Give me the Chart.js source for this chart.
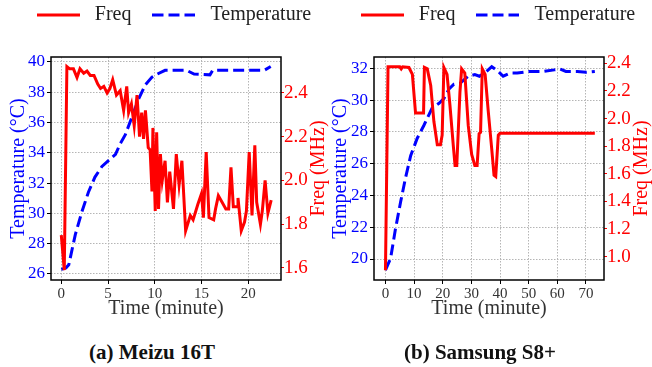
<!DOCTYPE html>
<html>
<head>
<meta charset="utf-8">
<script src="https://cdn.jsdelivr.net/npm/chart.js@4.4.0/dist/chart.umd.min.js"></script>
<style>
html, body { margin: 0; padding: 0; background: #fff; overflow: hidden; width: 652px; height: 367px; }
canvas { position: absolute; }
#meizu { left: 0; top: -11px; }
#samsung { left: 320px; top: -11px; }
.cap { position: absolute; top: 340px; font: bold 21px "Liberation Serif", serif; color: #111; white-space: nowrap; transform: translateX(-50%); }
</style>
</head>
<body>
<canvas id="meizu" width="343" height="341"></canvas>
<canvas id="samsung" width="351" height="341"></canvas>
<div class="cap" style="left:152px">(a) Meizu 16T</div>
<div class="cap" style="left:480px">(b) Samsung S8+</div>
<script>
// Meizu 16T
var meizuFreqTime = [0,0.32,0.6,0.9,1.3,1.68,2.0,2.4,2.75,3.1,3.5,3.9,4.2,4.55,4.9,5.2,5.5,5.9,6.3,6.67,7.0,7.2,7.5,7.8,8.1,8.37,8.6,8.8,9.0,9.3,9.5,9.7,9.8,10.05,10.2,10.4,10.6,10.8,11.1,11.35,11.6,12.0,12.3,12.6,12.9,13.3,13.8,14.1,14.6,15.0,15.2,15.5,15.8,16.3,16.5,16.8,17.2,17.6,17.9,18.15,18.4,18.8,18.9,19.25,19.6,19.8,20.1,20.4,20.7,20.9,21.3,21.5,21.8,22.1,22.45];
var meizuFreq = [1.75,1.59,2.52,2.51,2.51,2.47,2.51,2.49,2.50,2.48,2.48,2.44,2.42,2.43,2.40,2.42,2.46,2.39,2.41,2.32,2.43,2.31,2.35,2.25,2.39,2.20,2.31,2.19,2.32,2.15,2.14,1.95,2.24,1.86,2.22,1.87,2.12,2.00,2.09,1.90,2.04,1.87,2.12,1.98,2.09,1.77,1.84,1.82,1.89,1.94,1.83,2.13,1.83,1.82,1.87,1.93,1.90,1.87,1.87,2.06,1.88,1.88,1.92,1.77,1.81,1.86,2.13,1.84,2.16,1.90,1.80,1.86,2.00,1.85,1.91];
var meizuTempTime = [0,0.5,0.8,1.5,2.2,2.9,3.6,4.35,5.8,6.3,6.85,7.4,8.3,9.0,9.7,10.1,11.1,13.4,14.2,15.9,16.2,21.7,22.4];
var meizuTemp = [26.3,26.4,26.6,28.6,30.1,31.4,32.4,33.1,33.9,34.6,35.2,36.1,37.6,38.5,39.0,39.15,39.45,39.45,39.2,39.15,39.45,39.45,39.7];
var meizuXTicks = [0,5,10,15,20];
var meizuTempTicks = [26,28,30,32,34,36,38,40];
var meizuFreqTicks = [1.6,1.8,2.0,2.2,2.4];

// Samsung S8+
var samsungFreqTime = [0,0.9,5,5.5,6,8.2,9.4,10.5,13.3,13.6,14.6,15.8,16.9,18.1,19.2,19.8,20.4,21.5,22.5,23.7,24.3,24.9,26.0,26.6,27.7,28.9,30.1,31.2,32.0,32.7,33.2,33.8,34.8,35.9,37.1,37.9,38.5,39.4,40.0,73.1];
var samsungFreq = [0.90,2.375,2.375,2.36,2.375,2.37,2.32,2.04,2.04,2.37,2.36,2.24,1.98,1.81,1.81,1.88,2.37,2.32,2.10,1.80,1.66,1.66,2.19,2.36,2.33,1.95,1.74,1.66,1.66,1.89,1.90,2.36,2.32,2.05,1.78,1.59,1.58,1.88,1.893,1.893];
var samsungTempTime = [0,1.8,3.5,5.3,7.0,8.8,11.1,13.4,16.3,18.7,20.4,22.2,23.9,26,28.9,31.2,32.8,35.3,37.1,39.4,41.1,43.5,46,50,55,59,61,63,67,70,73.1];
var samsungTemp = [19.3,20.05,21.9,23.6,25.1,26.5,27.6,28.4,29.5,29.8,30.1,30.7,31.0,31.05,31.5,31.6,31.5,31.8,32.1,31.8,31.5,31.7,31.7,31.8,31.8,31.9,31.95,31.8,31.8,31.75,31.8];
var samsungXTicks = [0,10,20,30,40,50,60,70];
var samsungTempTicks = [20,22,24,26,28,30,32];
var samsungFreqTicks = [1.0,1.2,1.4,1.6,1.8,2.0,2.2,2.4];

var SERIF = '"Liberation Serif", "Times New Roman", serif';
var DASH = [11, 5];

function pts(t, v) {
  return t.map(function (x, i) { return { x: x, y: v[i] }; });
}

function fixedTicks(list) {
  return function (scale) {
    scale.ticks = list.map(function (v) { return { value: v }; });
  };
}

function lineImg(color, dash) {
  var c = document.createElement('canvas');
  c.width = 43; c.height = 4;
  var g = c.getContext('2d');
  g.strokeStyle = color; g.lineWidth = 3; g.setLineDash(dash);
  g.beginPath(); g.moveTo(0, 2); g.lineTo(43, 2); g.stroke();
  return c;
}

// legend height, plot frame and the right-hand axis title (bottom-to-top)
var framePlugin = {
  id: 'frame',
  beforeLayout: function (chart) {
    var lg = chart.legend;
    if (lg && !lg._fixed) {
      var fit = lg.fit;
      lg.fit = function () { fit.call(this); this.height = 68; };
      lg._fixed = true;
    }
  },
  afterDraw: function (chart) {
    var ctx = chart.ctx, a = chart.chartArea;
    ctx.save();
    ctx.strokeStyle = '#000';
    ctx.lineWidth = 1.5;
    ctx.strokeRect(a.left, a.top, a.right - a.left, a.bottom - a.top);
    ctx.translate(a.right + 38, (a.top + a.bottom) / 2);
    ctx.rotate(-Math.PI / 2);
    ctx.fillStyle = 'red';
    ctx.font = '20px ' + SERIF;
    ctx.textAlign = 'center';
    ctx.textBaseline = 'middle';
    ctx.fillText('Freq (MHz)', 0, 0);
    ctx.restore();
  }
};

function build(id, o) {
  var grid = { color: '#b5b5b5', lineWidth: 1, tickLength: 4, tickColor: '#000', tickWidth: 1 };
  var border = { display: false, dash: [1.5, 1.5] };
  return new Chart(document.getElementById(id), {
    type: 'line',
    data: {
      datasets: [{
        label: 'Freq',
        data: pts(o.freqT, o.freq),
        yAxisID: 'y1',
        borderColor: '#ff0000',
        borderWidth: 3,
        pointRadius: 0,
        pointStyle: lineImg('#ff0000', []),
        tension: 0
      }, {
        label: 'Temperature',
        data: pts(o.tempT, o.temp),
        yAxisID: 'y',
        borderColor: '#0000ff',
        borderWidth: 3,
        borderDash: DASH,
        pointRadius: 0,
        pointStyle: lineImg('#0000ff', DASH),
        tension: 0
      }]
    },
    options: {
      responsive: false,
      animation: false,
      events: [],
      layout: { padding: 0 },
      plugins: {
        legend: {
          labels: { usePointStyle: true, pointStyleWidth: 53, padding: 16, color: '#222', font: { family: SERIF, size: 20 } }
        },
        tooltip: { enabled: false }
      },
      scales: {
        x: {
          type: 'linear', min: o.xMin, max: o.xMax,
          afterBuildTicks: fixedTicks(o.xTicks),
          afterFit: function (s) { s.height = 50; },
          grid: grid, border: border,
          ticks: { color: '#333', padding: 1, font: { family: SERIF, size: 15 }, maxRotation: 0, callback: function (v) { return String(v); } },
          title: { display: true, text: 'Time (minute)', color: '#333', font: { family: SERIF, size: 20 }, padding: { top: 0, bottom: 9 } }
        },
        y: {
          position: 'left', min: o.tMin, max: o.tMax,
          afterBuildTicks: fixedTicks(o.tempTicks),
          afterFit: function (s) { s.width = o.yW; },
          grid: grid, border: border,
          ticks: { color: 'blue', padding: 2, font: { family: SERIF, size: 17 }, callback: function (v) { return String(v); } },
          title: { display: true, text: 'Temperature (°C)', color: 'blue', font: { family: SERIF, size: 20 }, padding: { top: o.titlePad, bottom: 0 } }
        },
        y1: {
          position: 'right', min: o.fMin, max: o.fMax,
          afterBuildTicks: fixedTicks(o.freqTicks),
          afterFit: function (s) { s.width = o.y1W; },
          grid: { drawOnChartArea: false, tickLength: 3, tickColor: 'red', tickWidth: 1 },
          border: { display: false },
          ticks: { color: 'red', padding: 0, font: { family: SERIF, size: 19 }, callback: function (v) { return v.toFixed(1); } }
        }
      }
    },
    plugins: [framePlugin]
  });
}

build('meizu', {
  freqT: meizuFreqTime, freq: meizuFreq, tempT: meizuTempTime, temp: meizuTemp,
  xTicks: meizuXTicks, tempTicks: meizuTempTicks, freqTicks: meizuFreqTicks,
  xMin: -1.1, xMax: 23.5, tMin: 25.6, tMax: 40.33, fMin: 1.545, fMax: 2.564,
  yW: 51, y1W: 62, titlePad: 7
});

build('samsung', {
  freqT: samsungFreqTime, freq: samsungFreq, tempT: samsungTempTime, temp: samsungTemp,
  xTicks: samsungXTicks, tempTicks: samsungTempTicks, freqTicks: samsungFreqTicks,
  xMin: -4.0, xMax: 76.3, tMin: 18.68, tMax: 32.71, fMin: 0.83, fMax: 2.446,
  yW: 54, y1W: 67, titlePad: 9
});
</script>
</body>
</html>
